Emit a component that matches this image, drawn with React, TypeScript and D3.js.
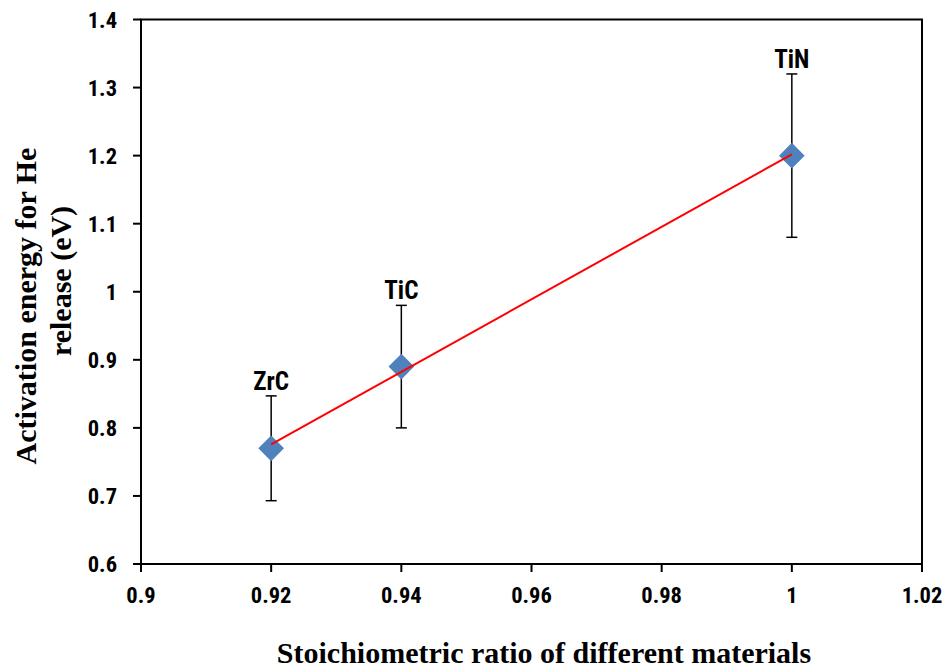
import React from "react";
import * as d3 from "d3";

const materials = ["ZrC", "TiC", "TiN"];
const ratios = [0.92, 0.94, 1.0];
const energies = [0.77, 0.89, 1.2];
const errors = [0.077, 0.09, 0.12];
const xTicks = [0.9, 0.92, 0.94, 0.96, 0.98, 1, 1.02];
const yTicks = [0.6, 0.7, 0.8, 0.9, 1, 1.1, 1.2, 1.3, 1.4];

const W = 948, H = 670;
const L = 141, R = 922, T = 19.5, B = 564;

export default function App() {
  const x = d3.scaleLinear().domain([0.9, 1.02]).range([L, R]);
  const y = d3.scaleLinear().domain([0.6, 1.4]).range([B, T]);
  const mx = d3.mean(ratios)!;
  const my = d3.mean(energies)!;
  const sxy = d3.sum(ratios.map((r, i) => (r - mx) * (energies[i] - my)));
  const sxx = d3.sum(ratios.map((r) => (r - mx) ** 2));
  const slope = sxy / sxx;
  const icpt = my - slope * mx;
  const x0 = d3.min(ratios)!, x1 = d3.max(ratios)!;
  const line = d3.line<number>().x((d) => x(d)).y((d) => y(icpt + slope * d));
  const tickFont = "'Liberation Sans Narrow', 'Roboto Condensed', 'Liberation Sans', sans-serif";
  const serif = "'Liberation Serif', 'Times New Roman', serif";
  const diamond = d3.symbol().type(d3.symbolDiamond2).size(420)();
  return (
    <svg width={W} height={H} style={{ position: "absolute", left: 0, top: 0, background: "#fff" }}>
      <rect x={L} y={T} width={R - L} height={B - T} fill="none" stroke="#000" strokeWidth={2} />
      {yTicks.map((t) => (
        <g key={"y" + t}>
          <line x1={L - 8} x2={L} y1={y(t)} y2={y(t)} stroke="#000" strokeWidth={2} />
          <text x={117} y={y(t)} dy="0.36em" textAnchor="end" fontFamily={tickFont} fontWeight="bold" fontSize={22.5} fill="#000">
            {String(t)}
          </text>
        </g>
      ))}
      {xTicks.map((t) => (
        <g key={"x" + t}>
          <line x1={x(t)} x2={x(t)} y1={B} y2={B + 8} stroke="#000" strokeWidth={2} />
          <text x={x(t)} y={603} textAnchor="middle" fontFamily={tickFont} fontWeight="bold" fontSize={22.5} fill="#000">
            {String(t)}
          </text>
        </g>
      ))}
      {ratios.map((r, i) => {
        const top = y(energies[i] + errors[i]);
        const bot = y(energies[i] - errors[i]);
        return (
          <g key={"e" + i}>
            <line x1={x(r)} x2={x(r)} y1={top} y2={bot} stroke="#000" strokeWidth={1.5} />
            <line x1={x(r) - 5.5} x2={x(r) + 5.5} y1={top} y2={top} stroke="#000" strokeWidth={1.5} />
            <line x1={x(r) - 5.5} x2={x(r) + 5.5} y1={bot} y2={bot} stroke="#000" strokeWidth={1.5} />
            <text x={x(r)} y={top - 6} textAnchor="middle" fontFamily={tickFont} fontWeight="bold" fontSize={25} fill="#000">
              {materials[i]}
            </text>
          </g>
        );
      })}
      {ratios.map((r, i) => (
        <path key={"p" + i} d={diamond!} transform={`translate(${x(r)},${y(energies[i])})`} fill="#4F81BD" />
      ))}
      <path d={line([x0, x1]) || ""} stroke="#FF0000" strokeWidth={2} fill="none" />
      <g transform="rotate(-90)">
        <text x={-306} y={36} textAnchor="middle" fontFamily={serif} fontWeight="bold" fontSize={30} fill="#000">
          Activation energy for He
        </text>
        <text x={-281} y={71} textAnchor="middle" fontFamily={serif} fontWeight="bold" fontSize={30} fill="#000">
          release (eV)
        </text>
      </g>
      <text x={544} y={663} textAnchor="middle" fontFamily={serif} fontWeight="bold" fontSize={30} fill="#000">
        Stoichiometric ratio of different materials
      </text>
    </svg>
  );
}
